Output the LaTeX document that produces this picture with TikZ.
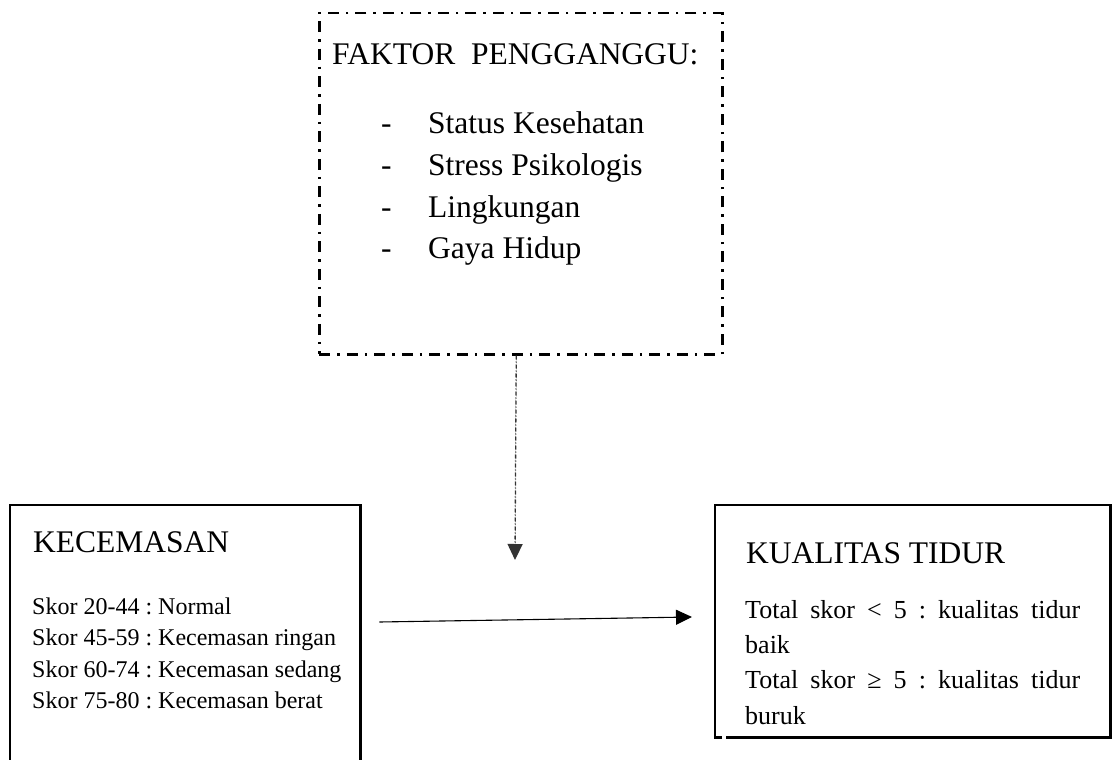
\documentclass[tikz,border=0pt]{standalone}
\usepackage{fontspec}
\setmainfont{Liberation Serif}
\usetikzlibrary{arrows.meta,calc}
\frenchspacing
\begin{document}
\begin{tikzpicture}[x=1pt,y=-1pt,
  holder/.style={draw=none,inner sep=0pt,anchor=north west},
  dashdotbox/.style={draw,line width=2.5pt,dash pattern=on 11pt off 7pt on 2.5pt off 7pt,inner sep=0pt,anchor=north west},
  boxline/.style={line width=2.3pt,line join=miter},
  bigtext/.style={font=\fontsize{31.5}{38}\selectfont,inner sep=0pt,anchor=base west},
  smalltext/.style={font=\fontsize{24}{29}\selectfont,inner sep=0pt,anchor=base west},
  midtext/.style={font=\fontsize{26}{31}\selectfont,inner sep=0pt,anchor=base west},
  tip/.style={-{Triangle[length=16pt,width=15pt]}},
  dotarrow/.style={tip,line width=1.3pt,draw=black!80,fill=black,dash pattern=on 4pt off 2pt on 1pt off 2pt},
  solidarrow/.style={tip,line width=1.1pt}
]
\useasboundingbox (0,0) rectangle (1112,760);
\clip (0,0) rectangle (1112,760);

% top box
\node[dashdotbox,minimum width=403pt,minimum height=341pt] (fak) at (318,12) {};
\node[bigtext] (fakT) at (332,65) {FAKTOR\ \ PENGGANGGU:};
\node[bigtext] (d1) at (381,133) {-};
\node[bigtext] (d2) at (381,175) {-};
\node[bigtext] (d3) at (381,217) {-};
\node[bigtext] (d4) at (381,258) {-};
\node[bigtext] (f1) at (428,133) {Status Kesehatan};
\node[bigtext] (f2) at (428,175) {Stress Psikologis};
\node[bigtext] (f3) at (428,217) {Lingkungan};
\node[bigtext] (f4) at (428,258) {Gaya Hidup};

% left box
\node[holder,minimum width=350pt,minimum height=300pt] (kec) at (10,505) {};
\draw[boxline] (kec.south west) -- (kec.north west) -- (kec.north east) -- (kec.south east);
\node[bigtext] (kecT) at (33,552) {KECEMASAN};
\node[smalltext] (k1) at (32,614) {Skor 20-44 : Normal};
\node[smalltext] (k2) at (32,645) {Skor 45-59 : Kecemasan ringan};
\node[smalltext] (k3) at (32,677) {Skor 60-74 : Kecemasan sedang};
\node[smalltext] (k4) at (32,708) {Skor 75-80 : Kecemasan berat};

% right box
\node[holder,minimum width=395pt,minimum height=232pt] (kual) at (715,505) {};
\draw[boxline] ($(kual.south west)+(7,0)$) -- (kual.south west) -- (kual.north west)
  -- (kual.north east) -- (kual.south east) -- ($(kual.south west)+(11,0)$);
\node[bigtext] (kualT) at (746,563) {KUALITAS TIDUR};
\node[midtext] (q1) at (745,618) {\makebox[335pt][s]{Total skor < 5 : kualitas tidur}};
\node[midtext] (q2) at (745,653) {baik};
\node[midtext] (q3) at (745,688) {\makebox[335pt][s]{Total skor ≥ 5 : kualitas tidur}};
\node[midtext] (q4) at (745,724) {buruk};

% connectors
\coordinate (vend) at (515,560);
\draw[dotarrow] ([xshift=-4.5pt]fak.south) -- (vend);
\draw[solidarrow] ($(kec.north east)+(19,117)$) -- ($(kual.north west)+(-23,112)$);
\end{tikzpicture}
\end{document}
